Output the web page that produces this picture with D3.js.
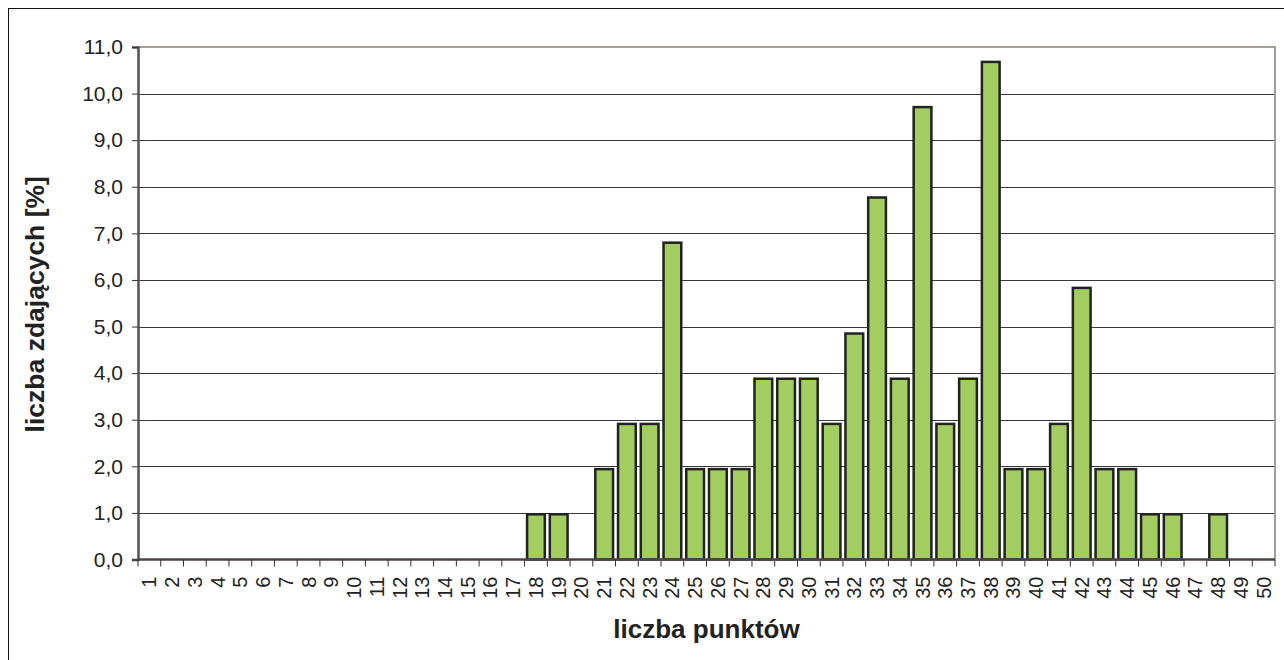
<!DOCTYPE html>
<html><head><meta charset="utf-8">
<script src="https://cdn.jsdelivr.net/npm/d3@7"></script>
<style>body{margin:0;background:#fff;}svg{display:block;}</style>
</head><body>
<svg id="chart" width="1284" height="660"></svg>
<script>
const categories = d3.range(1, 51).map(String);
// percentage of exam takers per score (n = 103)
const values = [0,0,0,0,0,0,0,0,0,0,0,0,0,0,0,0,0,0.97,0.97,0,
  1.94,2.91,2.91,6.80,1.94,1.94,1.94,3.88,3.88,3.88,
  2.91,4.85,7.77,3.88,9.71,2.91,3.88,10.68,1.94,1.94,
  2.91,5.83,1.94,1.94,0.97,0.97,0,0.97,0,0];
const yTicks = [0,1,2,3,4,5,6,7,8,9,10,11];
const xTitle = "liczba punktów";
const yTitle = "liczba zdających [%]";

const svg = d3.select("#chart");
const m = {left:138, top:47, right:1275, bottom:559.5};
const font = "Liberation Sans, Arial, sans-serif";

svg.append("rect").attr("x",8.5).attr("y",8.5).attr("width",1300).attr("height",700)
  .attr("fill","none").attr("stroke","#111").attr("stroke-width",1);

const x = d3.scaleBand().domain(categories).range([m.left, m.right]).paddingInner(0.22).paddingOuter(0.11);
const y = d3.scaleLinear().domain([0,11]).range([m.bottom, m.top]);

// gridlines
svg.append("g").selectAll("line").data(yTicks.slice(1,-1)).join("line")
  .attr("x1",m.left).attr("x2",m.right)
  .attr("y1",d=>Math.round(y(d))+0.5).attr("y2",d=>Math.round(y(d))+0.5)
  .attr("stroke","#3a3a3a").attr("stroke-width",1);

// plot frame top/right
svg.append("path")
  .attr("d",`M${m.left},${m.top} H${m.right} V${m.bottom}`)
  .attr("fill","none").attr("stroke","#a89c9a").attr("stroke-width",2);

// bars
svg.append("g").selectAll("rect")
  .data(categories.map((c,i)=>({c, v:values[i]})).filter(d=>d.v>0))
  .join("rect")
  .attr("x",d=>x(d.c)).attr("width",x.bandwidth())
  .attr("y",d=>y(d.v)).attr("height",d=>y(0)-y(d.v))
  .attr("fill","#a3cd60").attr("stroke","#222").attr("stroke-width",2.5);

// y axis
const yAxis = d3.axisLeft(y).tickValues(yTicks).tickSize(6).tickPadding(9)
  .tickFormat(d=>d3.format(".1f")(d).replace(".",","));
const gy = svg.append("g").attr("transform",`translate(${m.left},0)`).call(yAxis);
gy.select(".domain").attr("stroke","#5b4f4f").attr("stroke-width",2.5);
gy.selectAll(".tick line").attr("stroke","#333");
gy.selectAll("text").attr("font-family",font).attr("font-size",21).attr("fill","#222");

// x axis: ticks at category boundaries
const boundaries = d3.range(0, 51).map(i => m.left + i*(m.right-m.left)/50);
const gx = svg.append("g");
gx.append("line").attr("x1",m.left-1).attr("x2",m.right).attr("y1",m.bottom).attr("y2",m.bottom)
  .attr("stroke","#4f4444").attr("stroke-width",2.5);
gx.selectAll("line.tk").data(boundaries).join("line").attr("class","tk")
  .attr("x1",d=>d).attr("x2",d=>d).attr("y1",m.bottom).attr("y2",m.bottom+7)
  .attr("stroke","#333").attr("stroke-width",1);
gx.selectAll("text").data(categories).join("text")
  .attr("transform",d=>`translate(${x(d)+x.bandwidth()/2+7},${m.bottom+17}) rotate(-90)`)
  .attr("text-anchor","end")
  .attr("font-family",font).attr("font-size",20).attr("fill","#222")
  .text(d=>d);

// titles
svg.append("text").attr("x",(m.left+m.right)/2+0).attr("y",638)
  .attr("text-anchor","middle").attr("font-family",font).attr("font-weight","bold")
  .attr("font-size",26).attr("fill","#222").text(xTitle);
svg.append("text").attr("transform",`translate(44,${(m.top+m.bottom)/2+1}) rotate(-90)`)
  .attr("text-anchor","middle").attr("font-family",font).attr("font-weight","bold")
  .attr("font-size",26.5).attr("fill","#222").text(yTitle);
</script>
</body></html>
